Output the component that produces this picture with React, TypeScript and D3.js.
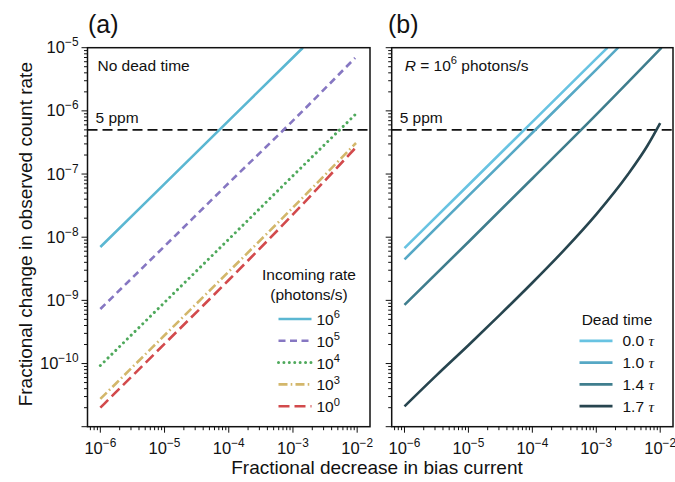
import * as d3 from "d3";

// axis ranges (log)
const xDomain: [number, number] = [10 ** -6.2, 10 ** -1.8];
const yDomain: [number, number] = [1e-11, 1e-5];
const threshold = 5e-7;

// panel (a): fractional change vs bias decrease, for each incoming rate
const rateNames = ["6", "5", "4", "3", "0"];
const rateColors = ["#5bb7d2", "#8677c2", "#4fa95c", "#d3b76b", "#d24a4c"];
const rateDashes = ["", "7 4.5", "0.01 5.4", "9 3.2 1.6 3.2", "11 5"];
const rate1e6: [number, number][] = [[1e-6, 7.0e-9], [1e-5, 7.0e-8], [1e-4, 7.0e-7], [1e-3, 7.0e-6], [1.43e-3, 1e-5]];
const rate1e5: [number, number][] = [[1e-6, 7.3e-10], [1e-5, 7.2e-9], [1e-4, 7.2e-8], [1e-3, 7.0e-7], [9.3e-3, 6.9e-6]];
const rate1e4: [number, number][] = [[1e-6, 9.3e-11], [1e-5, 9.3e-10], [1e-4, 9.3e-9], [1e-3, 9.4e-8], [9.4e-3, 8.8e-7]];
const rate1e3: [number, number][] = [[1e-6, 2.75e-11], [1e-5, 2.8e-10], [1e-4, 2.85e-9], [1e-3, 2.95e-8], [9.6e-3, 3.1e-7]];
const rate1e0: [number, number][] = [[1e-6, 2.0e-11], [1e-5, 2.05e-10], [1e-4, 2.1e-9], [1e-3, 2.3e-8], [9.6e-3, 2.65e-7]];
const rateSeries = [rate1e6, rate1e5, rate1e4, rate1e3, rate1e0];

// panel (b): R = 1e6 photons/s, for each dead time
const deadNames = ["0.0", "1.0", "1.4", "1.7"];
const deadColors = ["#68c3e2", "#56a8c5", "#3f7e8e", "#27454f"];
const dead00: [number, number][] = [[1e-6, 6.7e-9], [1e-5, 6.7e-8], [1e-4, 6.7e-7], [1e-3, 6.7e-6], [1.5e-3, 1e-5]];
const dead10: [number, number][] = [[1e-6, 4.45e-9], [1e-5, 4.5e-8], [1e-4, 4.5e-7], [1e-3, 4.5e-6], [2.2e-3, 1e-5]];
const dead14: [number, number][] = [[1e-6, 8.5e-10], [1e-5, 8.4e-9], [1e-4, 8.5e-8], [1e-3, 8.7e-7], [1.05e-2, 1e-5]];
const dead17: [number, number][] = [
  [1e-6, 2.1e-11], [3.16e-6, 6.5e-11], [1e-5, 1.95e-10], [3.16e-5, 6.0e-10], [1e-4, 1.9e-9],
  [3.16e-4, 6.3e-9], [1e-3, 2.3e-8], [3.16e-3, 1.0e-7], [6.3e-3, 2.8e-7], [1e-2, 6.4e-7],
];
const deadSeries = [dead00, dead10, dead14, dead17];

const W = 675, H = 482;
const top = 47.7, bottom = 426.7;
const panels = [{ x0: 87.5, x1: 370 }, { x0: 391.7, x1: 673 }];
const font = "'Liberation Sans', Arial, Helvetica, sans-serif";
const fs = 15.5;
const tfs = 16.5; // tick labels

const y = d3.scaleLog().domain(yDomain).range([bottom, top]);
const isMajor = (v: number) => Math.abs(Math.log10(v) - Math.round(Math.log10(v))) < 1e-6;

function Pow({ e, size = fs }: { e: number; size?: number }) {
  return (
    <>
      10<tspan dy={-size * 0.42} fontSize={size * 0.72}>{e < 0 ? "\u2212" + -e : e}</tspan>
    </>
  );
}

function Panel({ idx }: { idx: number }) {
  const { x0, x1 } = panels[idx];
  const x = d3.scaleLog().domain(xDomain).range([x0, x1]);
  const line = d3.line<[number, number]>().x((d) => x(d[0])).y((d) => y(d[1])).curve(d3.curveMonotoneX);
  const xt = x.ticks().filter((v) => v >= xDomain[0] && v <= xDomain[1]);
  const yt = y.ticks().filter((v) => v >= yDomain[0] * 0.999 && v <= yDomain[1] * 1.001);
  const clip = `clip${idx}`;
  const ty = y(threshold);
  return (
    <g>
      <clipPath id={clip}>
        <rect x={x0} y={top} width={x1 - x0} height={bottom - top} />
      </clipPath>
      {/* threshold */}
      <line x1={x0} x2={x1} y1={ty} y2={ty} stroke="#111" strokeWidth={1.6} strokeDasharray="10 5" />
      <text x={x0 + 8} y={ty - 7} fontSize={fs} fontFamily={font} fill="#111">5 ppm</text>
      <g clipPath={`url(#${clip})`}>
        {idx === 0
          ? rateSeries.map((s, i) => (
              <path key={i} d={line(s) ?? ""} fill="none" stroke={rateColors[i]} strokeWidth={i === 2 ? 3 : 2.6}
                strokeDasharray={rateDashes[i] || undefined} strokeLinecap={i === 2 ? "round" : "butt"} />
            ))
          : deadSeries.map((s, i) => (
              <path key={i} d={line(s) ?? ""} fill="none" stroke={deadColors[i]} strokeWidth={2.6} />
            ))}
      </g>
      {/* frame */}
      <rect x={x0} y={top} width={x1 - x0} height={bottom - top} fill="none" stroke="#111" strokeWidth={1.5} />
      {/* x ticks */}
      {xt.map((v, i) => (
        <line key={i} x1={x(v)} x2={x(v)} y1={bottom} y2={bottom + (isMajor(v) ? 6 : 3.5)} stroke="#111" strokeWidth={1} />
      ))}
      {xt.filter(isMajor).map((v, i) => (
        <text key={i} x={x(v)} y={bottom + 27} textAnchor="middle" fontSize={tfs} fontFamily={font} fill="#111">
          <Pow e={Math.round(Math.log10(v))} size={tfs} />
        </text>
      ))}
      {/* y ticks */}
      {yt.map((v, i) => (
        <line key={i} x1={x0} x2={x0 - (isMajor(v) ? 6 : 3.5)} y1={y(v)} y2={y(v)} stroke="#111" strokeWidth={1} />
      ))}
      {idx === 0 &&
        yt.filter((v) => isMajor(v) && v > yDomain[0] * 1.01).map((v, i) => (
          <text key={i} x={x0 - 9} y={y(v) + 5.5} textAnchor="end" fontSize={tfs} fontFamily={font} fill="#111">
            <Pow e={Math.round(Math.log10(v))} size={tfs} />
          </text>
        ))}
    </g>
  );
}

export default function App() {
  const [a, b] = panels;
  const legA = { x: 278.5, len: 33, y0: 319, dy: 21.8 };
  const legB = { x: 579.5, len: 33, y0: 340.8, dy: 21.8 };
  return (
    <svg width={W} height={H} style={{ position: "absolute", left: 0, top: 0, background: "#fff" }}>
      <Panel idx={0} />
      <Panel idx={1} />

      <text x={88} y={33} fontSize={25} fontFamily={font} fill="#111">(a)</text>
      <text x={388} y={33} fontSize={25} fontFamily={font} fill="#111">(b)</text>

      <text x={a.x0 + 10} y={71} fontSize={fs} fontFamily={font} fill="#111">No dead time</text>
      <text x={b.x0 + 13} y={71} fontSize={fs} fontFamily={font} fill="#111">
        <tspan fontStyle="italic">R</tspan> = <Pow e={6} /><tspan dy={fs * 0.42}> photons/s</tspan>
      </text>

      {/* legend a */}
      <text x={309} y={280} textAnchor="middle" fontSize={fs} fontFamily={font} fill="#111">Incoming rate</text>
      <text x={309} y={300} textAnchor="middle" fontSize={fs} fontFamily={font} fill="#111">(photons/s)</text>
      {rateNames.map((n, i) => {
        const yy = legA.y0 + i * legA.dy;
        return (
          <g key={i}>
            <line x1={legA.x} x2={legA.x + legA.len} y1={yy} y2={yy} stroke={rateColors[i]} strokeWidth={i === 2 ? 3 : 2.6}
              strokeDasharray={rateDashes[i] || undefined} strokeLinecap={i === 2 ? "round" : "butt"} />
            <text x={legA.x + legA.len + 5} y={yy + 6} fontSize={fs} fontFamily={font} fill="#111">
              <Pow e={+n} />
            </text>
          </g>
        );
      })}

      {/* legend b */}
      <text x={617} y={325} textAnchor="middle" fontSize={fs} fontFamily={font} fill="#111">Dead time</text>
      {deadNames.map((n, i) => {
        const yy = legB.y0 + i * legB.dy;
        return (
          <g key={i}>
            <line x1={legB.x} x2={legB.x + legB.len} y1={yy} y2={yy} stroke={deadColors[i]} strokeWidth={2.8} />
            <text x={legB.x + legB.len + 10} y={yy + 5.5} fontSize={fs} fontFamily={font} fill="#111">
              {n} <tspan fontFamily="'Liberation Serif', 'DejaVu Serif', serif" fontStyle="italic">τ</tspan>
            </text>
          </g>
        );
      })}

      {/* axis titles */}
      <text x={377} y={474} textAnchor="middle" fontSize={19} fontFamily={font} fill="#111">
        Fractional decrease in bias current
      </text>
      <text transform={`translate(32,${(top + bottom) / 2 - 3}) rotate(-90)`} textAnchor="middle" fontSize={19}
        fontFamily={font} fill="#111">
        Fractional change in observed count rate
      </text>
    </svg>
  );
}
